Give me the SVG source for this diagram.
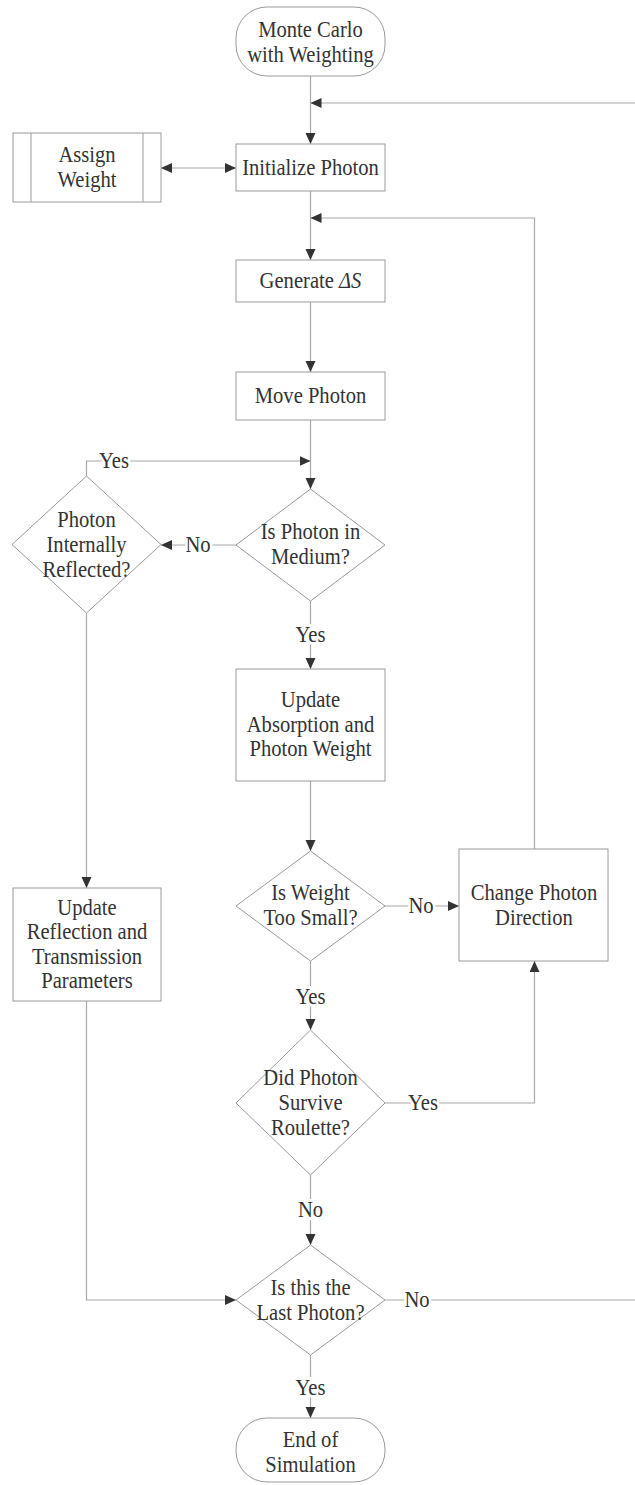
<svg xmlns="http://www.w3.org/2000/svg" width="635" height="1485" viewBox="0 0 635 1485" font-family="'Liberation Serif', serif">
<style>
.bg{fill:#ffffff}
.shape{fill:#ffffff;stroke:#9a9a9a;stroke-width:1}
.conn{fill:none;stroke:#a8a8a8;stroke-width:1.2}
text{font-family:'Liberation Serif', serif}
.t{font-size:20.6px;fill:#333333;text-anchor:middle;transform:scale(1,1.17)}
.lbl{paint-order:stroke;stroke:#ffffff;stroke-width:5px}
</style>
<defs>
<marker id="ah" markerUnits="userSpaceOnUse" markerWidth="12" markerHeight="11" refX="11" refY="5" orient="auto-start-reverse">
<path d="M0,0 L11,5 L0,10 z" fill="#333333"/>
</marker>
</defs>
<rect class="bg" x="0" y="0" width="635" height="1485"/>

<g id="connectors">
<path class="conn" d="M310.5,76 V144" marker-end="url(#ah)"/>
<path class="conn" d="M640,103 H310.5" marker-end="url(#ah)"/>
<path class="conn" d="M161,168 H236" marker-start="url(#ah)" marker-end="url(#ah)"/>
<path class="conn" d="M310.5,191 V260" marker-end="url(#ah)"/>
<path class="conn" d="M534.5,849 V218 H310.5" marker-end="url(#ah)"/>
<path class="conn" d="M310.5,302 V372" marker-end="url(#ah)"/>
<path class="conn" d="M310.5,420 V489" marker-end="url(#ah)"/>
<path class="conn" d="M86.5,476 V461 H310.5" marker-end="url(#ah)"/>
<path class="conn" d="M236,545 H161" marker-end="url(#ah)"/>
<path class="conn" d="M310.5,601 V669" marker-end="url(#ah)"/>
<path class="conn" d="M86.5,613 V888" marker-end="url(#ah)"/>
<path class="conn" d="M310.5,781 V851" marker-end="url(#ah)"/>
<path class="conn" d="M385,906 H459" marker-end="url(#ah)"/>
<path class="conn" d="M310.5,961 V1030" marker-end="url(#ah)"/>
<path class="conn" d="M385,1103 H534.5 V961" marker-end="url(#ah)"/>
<path class="conn" d="M310.5,1175 V1245" marker-end="url(#ah)"/>
<path class="conn" d="M86.5,1001 V1300 H236" marker-end="url(#ah)"/>
<path class="conn" d="M385,1300 H640"/>
<path class="conn" d="M310.5,1355 V1418" marker-end="url(#ah)"/>
<g transform="translate(114,461)"><text class="t lbl" y="6">Yes</text></g>
<g transform="translate(198,545)"><text class="t lbl" y="6">No</text></g>
<g transform="translate(310.5,635)"><text class="t lbl" y="6">Yes</text></g>
<g transform="translate(421,906)"><text class="t lbl" y="6">No</text></g>
<g transform="translate(310.5,997)"><text class="t lbl" y="6">Yes</text></g>
<g transform="translate(423,1103)"><text class="t lbl" y="6">Yes</text></g>
<g transform="translate(310.5,1210)"><text class="t lbl" y="6">No</text></g>
<g transform="translate(417,1300)"><text class="t lbl" y="6">No</text></g>
<g transform="translate(310.5,1388)"><text class="t lbl" y="6">Yes</text></g>
</g>

<g id="start">
<rect class="shape" x="236" y="7" width="149" height="69" rx="31" ry="31"/>
<g transform="translate(310.5,42.5)"><text class="t"><tspan x="0" y="-4.5">Monte Carlo</tspan><tspan x="0" y="16.5">with Weighting</tspan></text></g>
</g>

<g id="assign-weight">
<rect class="shape" x="13" y="133" width="148" height="69"/>
<line class="shape" x1="31" y1="133" x2="31" y2="202"/>
<line class="shape" x1="143" y1="133" x2="143" y2="202"/>
<g transform="translate(87,167.5)"><text class="t"><tspan x="0" y="-4.5">Assign</tspan><tspan x="0" y="16.5">Weight</tspan></text></g>
</g>

<g id="initialize">
<rect class="shape" x="236" y="144" width="149" height="47"/>
<g transform="translate(310.5,168)"><text class="t" y="6">Initialize Photon</text></g>
</g>

<g id="generate">
<rect class="shape" x="236" y="260" width="149" height="42"/>
<g transform="translate(310.5,281)"><text class="t" y="6">Generate <tspan font-style="italic">ΔS</tspan></text></g>
</g>

<g id="move">
<rect class="shape" x="236" y="372" width="149" height="48"/>
<g transform="translate(310.5,396)"><text class="t" y="6">Move Photon</text></g>
</g>

<g id="internally-reflected">
<polygon class="shape" points="86.5,476 161,544.5 86.5,613 12,544.5"/>
<g transform="translate(86.5,545)"><text class="t"><tspan x="0" y="-15">Photon</tspan><tspan x="0" y="6">Internally</tspan><tspan x="0" y="27">Reflected?</tspan></text></g>
</g>

<g id="in-medium">
<polygon class="shape" points="310.5,489 385,545 310.5,601 236,545"/>
<g transform="translate(310.5,544.5)"><text class="t"><tspan x="0" y="-4.5">Is Photon in</tspan><tspan x="0" y="16.5">Medium?</tspan></text></g>
</g>

<g id="update-absorption">
<rect class="shape" x="236" y="669" width="149" height="112"/>
<g transform="translate(310.5,724.5)"><text class="t"><tspan x="0" y="-15">Update</tspan><tspan x="0" y="6">Absorption and</tspan><tspan x="0" y="27">Photon Weight</tspan></text></g>
</g>

<g id="weight-small">
<polygon class="shape" points="310.5,851 385,906 310.5,961 236,906"/>
<g transform="translate(310.5,905.5)"><text class="t"><tspan x="0" y="-4.5">Is Weight</tspan><tspan x="0" y="16.5">Too Small?</tspan></text></g>
</g>

<g id="change-direction">
<rect class="shape" x="459" y="849" width="149" height="112"/>
<g transform="translate(534,905.5)"><text class="t"><tspan x="0" y="-4.5">Change Photon</tspan><tspan x="0" y="16.5">Direction</tspan></text></g>
</g>

<g id="update-reflection">
<rect class="shape" x="13" y="888" width="148" height="113"/>
<g transform="translate(87,944.5)"><text class="t"><tspan x="0" y="-25.5">Update</tspan><tspan x="0" y="-4.5">Reflection and</tspan><tspan x="0" y="16.5">Transmission</tspan><tspan x="0" y="37.5">Parameters</tspan></text></g>
</g>

<g id="roulette">
<polygon class="shape" points="310.5,1030 385,1103 310.5,1175 236,1103"/>
<g transform="translate(310.5,1103)"><text class="t"><tspan x="0" y="-15">Did Photon</tspan><tspan x="0" y="6">Survive</tspan><tspan x="0" y="27">Roulette?</tspan></text></g>
</g>

<g id="last-photon">
<polygon class="shape" points="310.5,1245 385,1300 310.5,1355 236,1300"/>
<g transform="translate(310.5,1300.5)"><text class="t"><tspan x="0" y="-4.5">Is this the</tspan><tspan x="0" y="16.5">Last Photon?</tspan></text></g>
</g>

<g id="end">
<rect class="shape" x="236" y="1418" width="149" height="64" rx="31" ry="31"/>
<g transform="translate(310.5,1452.5)"><text class="t"><tspan x="0" y="-4.5">End of</tspan><tspan x="0" y="16.5">Simulation</tspan></text></g>
</g>
</svg>
